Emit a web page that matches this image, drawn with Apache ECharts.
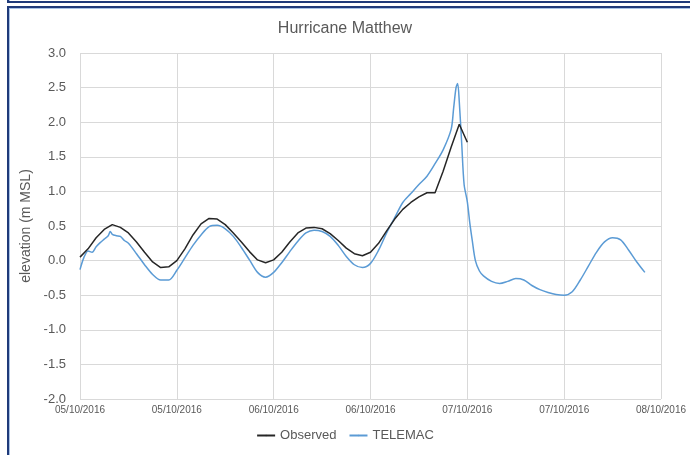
<!DOCTYPE html>
<html>
<head>
<meta charset="utf-8">
<script src="https://cdn.jsdelivr.net/npm/echarts@6/dist/echarts.min.js"></script>
<style>
  html, body { margin: 0; padding: 0; background: #fff; }
  #wrap { position: relative; width: 690px; height: 455px; overflow: hidden; }
  .frame { position: absolute; border: 2px solid #1f3a7a; box-shadow: inset 1px 1px 0 #a9c2e6; }
  #chart { position: absolute; left: 0; top: 0; width: 690px; height: 455px; }
</style>
</head>
<body>
<div id="wrap">
  <div class="frame" style="left:7px; top:-12px; width:700px; height:11px;"></div>
  <div class="frame" style="left:7px; top:6px; width:700px; height:470px;"></div>
  <div id="chart"></div>
</div>
<script>
// x 轴刻度（每 12 小时一个）
const xLabels = ['05/10/2016', '05/10/2016', '06/10/2016', '06/10/2016', '07/10/2016', '07/10/2016', '08/10/2016']

// 观测值：从 05/10/2016 00:00 起的小时数
const obsHours = [0, 1, 2, 3, 4, 5, 6, 7, 8, 9, 10, 11, 12, 13, 14, 15, 16, 17, 18, 19, 20, 21, 22, 23, 24,
  25, 26, 27, 28, 29, 30, 31, 32, 33, 34, 35, 36, 37, 38, 39, 40, 41, 42, 43, 44, 45, 46, 47, 48]
const obsValues = [0.05, 0.17, 0.33, 0.45, 0.52, 0.48, 0.40, 0.27, 0.12, -0.02, -0.10, -0.09, 0.00, 0.17, 0.37, 0.53, 0.61, 0.60, 0.52, 0.40, 0.27, 0.13, 0.01, -0.03, 0.01,
  0.12, 0.27, 0.40, 0.47, 0.48, 0.46, 0.39, 0.29, 0.18, 0.10, 0.07, 0.12, 0.25, 0.43, 0.60, 0.74, 0.84, 0.92, 0.98, 0.98, 1.29, 1.64, 1.97, 1.71]

// TELEMAC 模拟值
const telHours = [0, 0.5, 1, 1.5, 2, 2.5, 3, 3.5, 3.75, 4, 4.5, 5, 5.5, 6, 7, 8, 9, 10, 11, 12, 13, 14, 15, 16, 17, 18, 19, 20, 21, 22, 23, 24,
  25, 26, 27, 28, 29, 30, 31, 32, 33, 34, 35, 36, 37, 38, 39, 40, 41, 42, 43, 44, 45, 46, 46.3, 46.6, 46.8, 47, 47.3, 47.6, 48, 48.3, 48.6, 49, 49.5, 50,
  51, 52, 53, 54, 55, 56, 57, 58, 59, 60, 61, 62, 63, 64, 65, 66, 67, 68, 69, 70]
const telValues = [-0.13, 0.05, 0.14, 0.12, 0.20, 0.26, 0.31, 0.36, 0.42, 0.38, 0.36, 0.35, 0.29, 0.25, 0.10, -0.06, -0.20, -0.28, -0.28, -0.14, 0.04, 0.22, 0.37, 0.49, 0.51, 0.46, 0.35, 0.19, 0.01, -0.17, -0.24, -0.17,
  -0.03, 0.13, 0.28, 0.40, 0.44, 0.42, 0.35, 0.22, 0.06, -0.06, -0.10, -0.04, 0.15, 0.40, 0.62, 0.84, 0.97, 1.10, 1.22, 1.40, 1.60, 1.90, 2.20, 2.50, 2.56, 2.30, 1.70, 1.10, 0.85, 0.55, 0.30, 0.00, -0.15, -0.22,
  -0.30, -0.33, -0.30, -0.26, -0.28, -0.36, -0.42, -0.46, -0.49, -0.50, -0.45, -0.28, -0.08, 0.12, 0.27, 0.33, 0.30, 0.15, -0.02, -0.17]

const chartInstance = echarts.init(document.getElementById('chart'))

const textColor = '#595959'
const gridColor = '#d9d9d9'
const font = 'Liberation Sans'

const option = {
  animation: false,
  title: {
    text: 'Hurricane Matthew',
    left: 'center',
    top: 16,
    textStyle: { color: textColor, fontFamily: font, fontSize: 16, fontWeight: 'normal' }
  },
  legend: {
    bottom: 8,
    left: 'center',
    itemWidth: 18,
    itemHeight: 2,
    itemGap: 12,
    textStyle: { color: textColor, fontFamily: font, fontSize: 13 },
    data: ['Observed', 'TELEMAC']
  },
  grid: { left: 80, right: 29, top: 53, bottom: 56 },
  xAxis: {
    type: 'value',
    min: 0,
    max: 72,
    interval: 12,
    axisLine: { show: false },
    axisTick: { show: false },
    splitLine: { lineStyle: { color: gridColor, width: 1 } },
    axisLabel: {
      color: textColor,
      fontFamily: font,
      fontSize: 10,
      margin: 6,
      formatter: v => xLabels[Math.round(v / 12)]
    }
  },
  yAxis: {
    type: 'value',
    min: -2,
    max: 3,
    interval: 0.5,
    name: 'elevation (m MSL)',
    nameLocation: 'middle',
    nameGap: 40,
    nameTextStyle: { color: textColor, fontFamily: font, fontSize: 14 },
    axisLine: { show: false },
    axisTick: { show: false },
    splitLine: { lineStyle: { color: gridColor, width: 1 } },
    axisLabel: {
      color: textColor,
      fontFamily: font,
      fontSize: 13,
      margin: 14,
      formatter: v => v.toFixed(1)
    }
  },
  series: [
    {
      name: 'Observed',
      type: 'line',
      symbol: 'none',
      data: obsHours.map((h, i) => [h, obsValues[i]]),
      lineStyle: { color: '#262626', width: 1.5 },
      itemStyle: { color: '#262626' },
      z: 3
    },
    {
      name: 'TELEMAC',
      type: 'line',
      symbol: 'none',
      smooth: 0.3,
      data: telHours.map((h, i) => [h, telValues[i]]),
      lineStyle: { color: '#5b9bd5', width: 1.5 },
      itemStyle: { color: '#5b9bd5' },
      z: 2
    }
  ]
}
chartInstance.setOption(option)
</script>
</body>
</html>
